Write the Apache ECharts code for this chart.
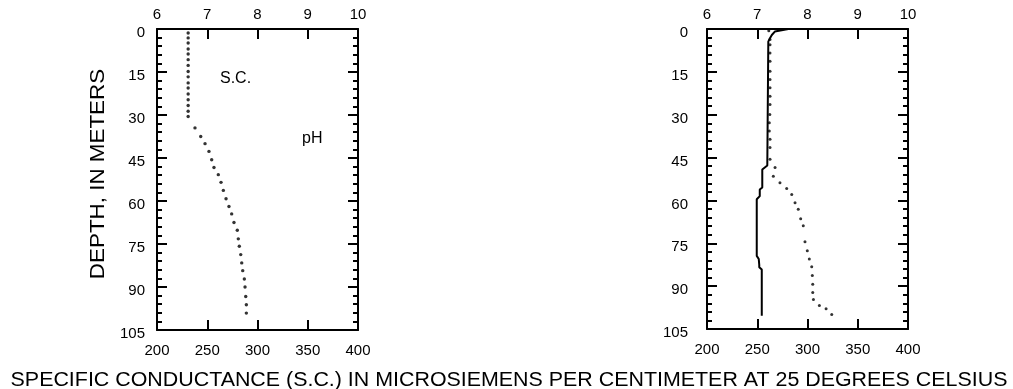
<!DOCTYPE html>
<html><head><meta charset="utf-8">
<script src="https://cdn.jsdelivr.net/npm/echarts@6/dist/echarts.min.js"></script>
<style>html,body{margin:0;padding:0;background:#fff}#c{width:1013px;height:389px}</style>
</head><body><div id="c"></div>
<script>
// Axis ticks
const depthTicks = [0, 15, 30, 45, 60, 75, 90, 105];
const scTicks = [200, 250, 300, 350, 400];
const phTicks = [6, 7, 8, 9, 10];

// Left profile: specific conductance (dots)
const leftScDepth = [1.4, 3.1, 4.9, 7.0, 8.7, 10.7, 12.7, 14.8, 16.7, 18.8, 20.6, 22.7, 24.7, 26.7, 28.7, 30.5,
  34.5, 37.5, 40.0, 42.7, 45.6, 48.3, 50.8, 53.5, 56.3, 59.2, 61.9, 64.5, 67.5, 70.2, 73.2, 75.8, 78.7, 81.6, 84.3, 87.2, 90.0, 93.3, 96.2, 99.1];
const leftScValue = [231, 231, 231, 231, 231, 231, 231, 231, 231, 231, 231, 231, 231, 231, 231, 231,
  237.8, 243.5, 247.8, 251.7, 254.4, 256.7, 261.0, 263.7, 266.0, 268.7, 271.6, 274.3, 276.6, 279.9, 280.9, 281.9, 283.3, 284.3, 285.3, 286.9, 287.6, 288.3, 288.9, 288.9];

// Right profile: specific conductance (dots)
const rightScDepth = [0.6, 3.7, 5.5, 8.4, 11.3, 14.8, 17.7, 20.6, 23.5, 26.4, 29.9, 32.8, 35.7, 38.6, 41.5, 45.6, 48.5,
  51.5, 53.8, 55.8, 57.9, 60.8, 63.1, 66.4, 68.9, 74.5, 77.6, 80.5, 83.2, 86.3, 89.3, 92.2, 94.7, 96.8, 97.9, 99.9];
const rightScValue = [261.5, 262.7, 262.7, 262.7, 262.7, 262.7, 262.7, 262.7, 262.7, 262.7, 262.5, 262.0, 262.0, 262.7, 262.7, 262.7, 267.7,
  266.0, 272.6, 279.3, 284.3, 287.6, 290.8, 293.2, 295.8, 297.5, 299.8, 301.8, 304.2, 304.8, 305.2, 305.2, 305.9, 311.8, 318.5, 324.1];

// Right profile: pH (solid line)
const rightPhDepth = [0, 0.9, 2.1, 3.3, 4.4, 5.0, 47.8, 49.2, 55.5, 56.2, 58.5, 59.6, 79.4, 80.5, 82.6, 83.4, 84.2, 100.4];
const rightPhValue = [7.62, 7.35, 7.29, 7.25, 7.22, 7.20, 7.20, 7.10, 7.10, 7.05, 7.05, 6.99, 6.99, 7.03, 7.04, 7.04, 7.09, 7.09];

const FONT = 'Liberation Sans, Arial, sans-serif';
const black = '#000';

function xAxis(grid, pos, ticks, margin) {
  return {
    type: 'value', gridIndex: grid, position: pos,
    min: ticks[0], max: ticks[ticks.length - 1], interval: ticks[1] - ticks[0],
    axisLine: { show: true, onZero: false, lineStyle: { color: black, width: 2 } },
    axisTick: { show: true, inside: true, length: 10, lineStyle: { color: black, width: 2 } },
    axisLabel: { show: true, color: black, fontSize: 15, fontFamily: FONT, margin: margin },
    splitLine: { show: false }
  };
}
function yAxis(grid, pos, showLabel, margin) {
  return {
    type: 'value', gridIndex: grid, position: pos, inverse: true,
    min: depthTicks[0], max: depthTicks[depthTicks.length - 1], interval: depthTicks[1] - depthTicks[0],
    axisLine: { show: true, onZero: false, lineStyle: { color: black, width: 2 } },
    axisTick: { show: true, inside: true, length: 10, lineStyle: { color: black, width: 2 } },
    minorTick: { show: true, splitNumber: 5, length: 5, lineStyle: { color: black, width: 2 } },
    axisLabel: { show: showLabel, color: black, fontSize: 15, fontFamily: FONT, margin: margin,
      verticalAlign: 'top', lineHeight: 8 },
    splitLine: { show: false }, minorSplitLine: { show: false }
  };
}

const zip = (xs, ys) => xs.map((v, i) => [v, ys[i]]);

const chart = echarts.init(document.getElementById('c'), null, { renderer: 'canvas' });

chart.setOption({
  animation: false,
  backgroundColor: '#fff',
  grid: [
    { left: 157, top: 29, width: 201, height: 301 },
    { left: 707, top: 29, width: 201, height: 300 }
  ],
  xAxis: [
    xAxis(0, 'bottom', scTicks, 13),
    xAxis(0, 'top', phTicks, 7),
    xAxis(1, 'bottom', scTicks, 13),
    xAxis(1, 'top', phTicks, 7)
  ],
  yAxis: [
    yAxis(0, 'left', true, 12),
    yAxis(0, 'right', false, 8),
    yAxis(1, 'left', true, 19),
    yAxis(1, 'right', false, 8)
  ],
  graphic: [
    { type: 'text', left: 220, top: 71, style: { text: 'S.C.', fill: black, font: '16px ' + FONT } },
    { type: 'text', left: 302, top: 131, style: { text: 'pH', fill: black, font: '16px ' + FONT } },
    { type: 'text', x: 98.5, y: 174, rotation: Math.PI / 2, scaleX: 1.12,
      style: { text: 'DEPTH, IN METERS', x: 0, y: 0, fill: black, font: '20px ' + FONT,
        align: 'center', verticalAlign: 'middle', textAlign: 'center', textVerticalAlign: 'middle' } },
    { type: 'text', x: 509, y: 380, scaleX: 1.07,
      style: { text: 'SPECIFIC CONDUCTANCE (S.C.) IN MICROSIEMENS PER CENTIMETER AT 25 DEGREES CELSIUS',
        x: 0, y: 0, fill: black, font: '20px ' + FONT,
        align: 'center', verticalAlign: 'middle', textAlign: 'center', textVerticalAlign: 'middle' } }
  ],
  series: [
    { type: 'scatter', xAxisIndex: 0, yAxisIndex: 0, data: zip(leftScValue, leftScDepth),
      symbol: 'circle', symbolSize: 3.4, itemStyle: { color: black }, silent: true },
    { type: 'scatter', xAxisIndex: 2, yAxisIndex: 2, data: zip(rightScValue, rightScDepth),
      symbol: 'circle', symbolSize: 3, itemStyle: { color: black }, silent: true },
    { type: 'line', xAxisIndex: 3, yAxisIndex: 2, data: zip(rightPhValue, rightPhDepth),
      showSymbol: false, symbol: 'none', lineStyle: { color: black, width: 2 }, silent: true }
  ]
});
</script>
</body></html>
